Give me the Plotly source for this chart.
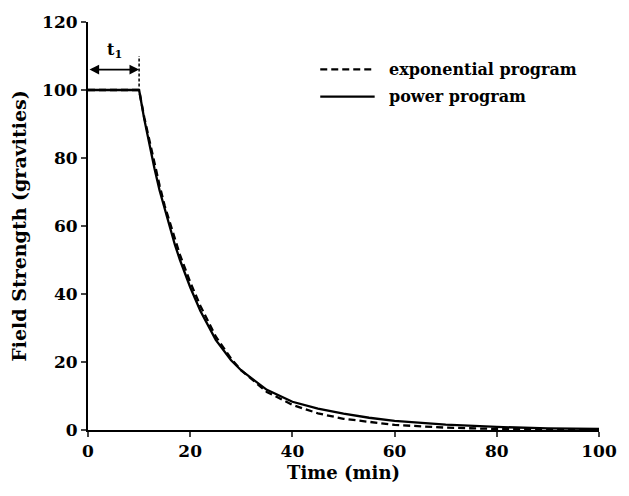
import plotly.graph_objects as go

# Data
time_power = [0, 10, 11, 12, 13, 14, 15, 16, 17, 18, 20, 22, 25, 28, 30, 35, 40, 45, 50, 55, 60, 70, 80, 90, 100]
field_power = [100, 100, 91.5, 84, 77, 70.5, 65, 59.5, 54.5, 50, 42, 35, 26.5, 20.5, 17.5, 11.8, 8.3, 6.3, 4.8, 3.6, 2.7, 1.6, 0.9, 0.5, 0.3]

time_exp = [0, 10, 11, 12, 13, 14, 15, 16, 17, 18, 20, 22, 25, 28, 30, 35, 40, 45, 50, 55, 60, 70, 80, 90, 100]
field_exp = [100, 100, 92, 85, 78, 72, 66, 61, 56, 51.5, 43.5, 36.5, 27.5, 21, 17.5, 11.2, 7.4, 4.9, 3.3, 2.3, 1.5, 0.7, 0.3, 0.15, 0.05]

x_ticks = [0, 20, 40, 60, 80, 100]
y_ticks = [0, 20, 40, 60, 80, 100, 120]

t1 = 10          # end of the constant-field period
arrow_level = 106
legend_names = ["exponential program", "power program"]

FONT = "DejaVu Serif"
DASH = "7px,4px"

fig = go.Figure()
fig.add_trace(go.Scatter(x=time_exp, y=field_exp, mode="lines", name=legend_names[0],
                         line=dict(color="black", width=2.3, dash=DASH), showlegend=False))
fig.add_trace(go.Scatter(x=time_power, y=field_power, mode="lines", name=legend_names[1],
                         line=dict(color="black", width=2.3), showlegend=False))

# t1 marker: vertical dashed line and double arrow
fig.add_shape(type="line", xref="x", yref="y", x0=t1, x1=t1, y0=101, y1=110,
              line=dict(color="black", width=1.5, dash="3px,2px"))
fig.add_annotation(x=t1, y=arrow_level, ax=0, ay=arrow_level, xref="x", yref="y",
                   axref="x", ayref="y", text="", showarrow=True,
                   arrowhead=2, arrowside="end+start", arrowsize=1.2, arrowwidth=1.6,
                   arrowcolor="black", startarrowhead=2, startarrowsize=1.2)
fig.add_annotation(x=5.2, y=111.5, xref="x", yref="y", text="t<sub>1</sub>", showarrow=False,
                   font=dict(family=FONT, size=16, color="black", weight="bold"))

# custom legend
leg_x0, leg_x1, leg_tx = 0.4545, 0.561, 0.585
leg_y = [0.884, 0.817]
leg_dash = [DASH, "solid"]
for name, yy, d in zip(legend_names, leg_y, leg_dash):
    fig.add_shape(type="line", xref="paper", yref="paper", x0=leg_x0, x1=leg_x1, y0=yy, y1=yy,
                  line=dict(color="black", width=2.3, dash=d))
    fig.add_annotation(x=leg_tx, y=yy, xref="paper", yref="paper", text=name, showarrow=False,
                       xanchor="left", yanchor="middle",
                       font=dict(family=FONT, size=16, color="black", weight="bold"))

fig.update_layout(
    width=629, height=496,
    margin=dict(l=88, r=24, t=15, b=66),
    paper_bgcolor="white", plot_bgcolor="white",
    font=dict(family=FONT, color="black"),
)
fig.update_xaxes(range=[0, 100], tickvals=x_ticks, ticks="outside", ticklen=5, tickwidth=2,
                 showline=True, linewidth=2, linecolor="black", showgrid=False, zeroline=False,
                 tickfont=dict(family=FONT, size=17, color="black", weight="bold"),
                 title=dict(text="Time (min)", standoff=6,
                            font=dict(family=FONT, size=18, color="black", weight="bold")))
fig.update_yaxes(range=[0, 120], tickvals=y_ticks, ticks="outside", ticklen=5, tickwidth=2,
                 showline=True, linewidth=2, linecolor="black", showgrid=False, zeroline=False,
                 tickfont=dict(family=FONT, size=17, color="black", weight="bold"),
                 title=dict(text="Field Strength (gravities)", standoff=10,
                            font=dict(family=FONT, size=19, color="black", weight="bold")))

fig.write_html("out.html")
